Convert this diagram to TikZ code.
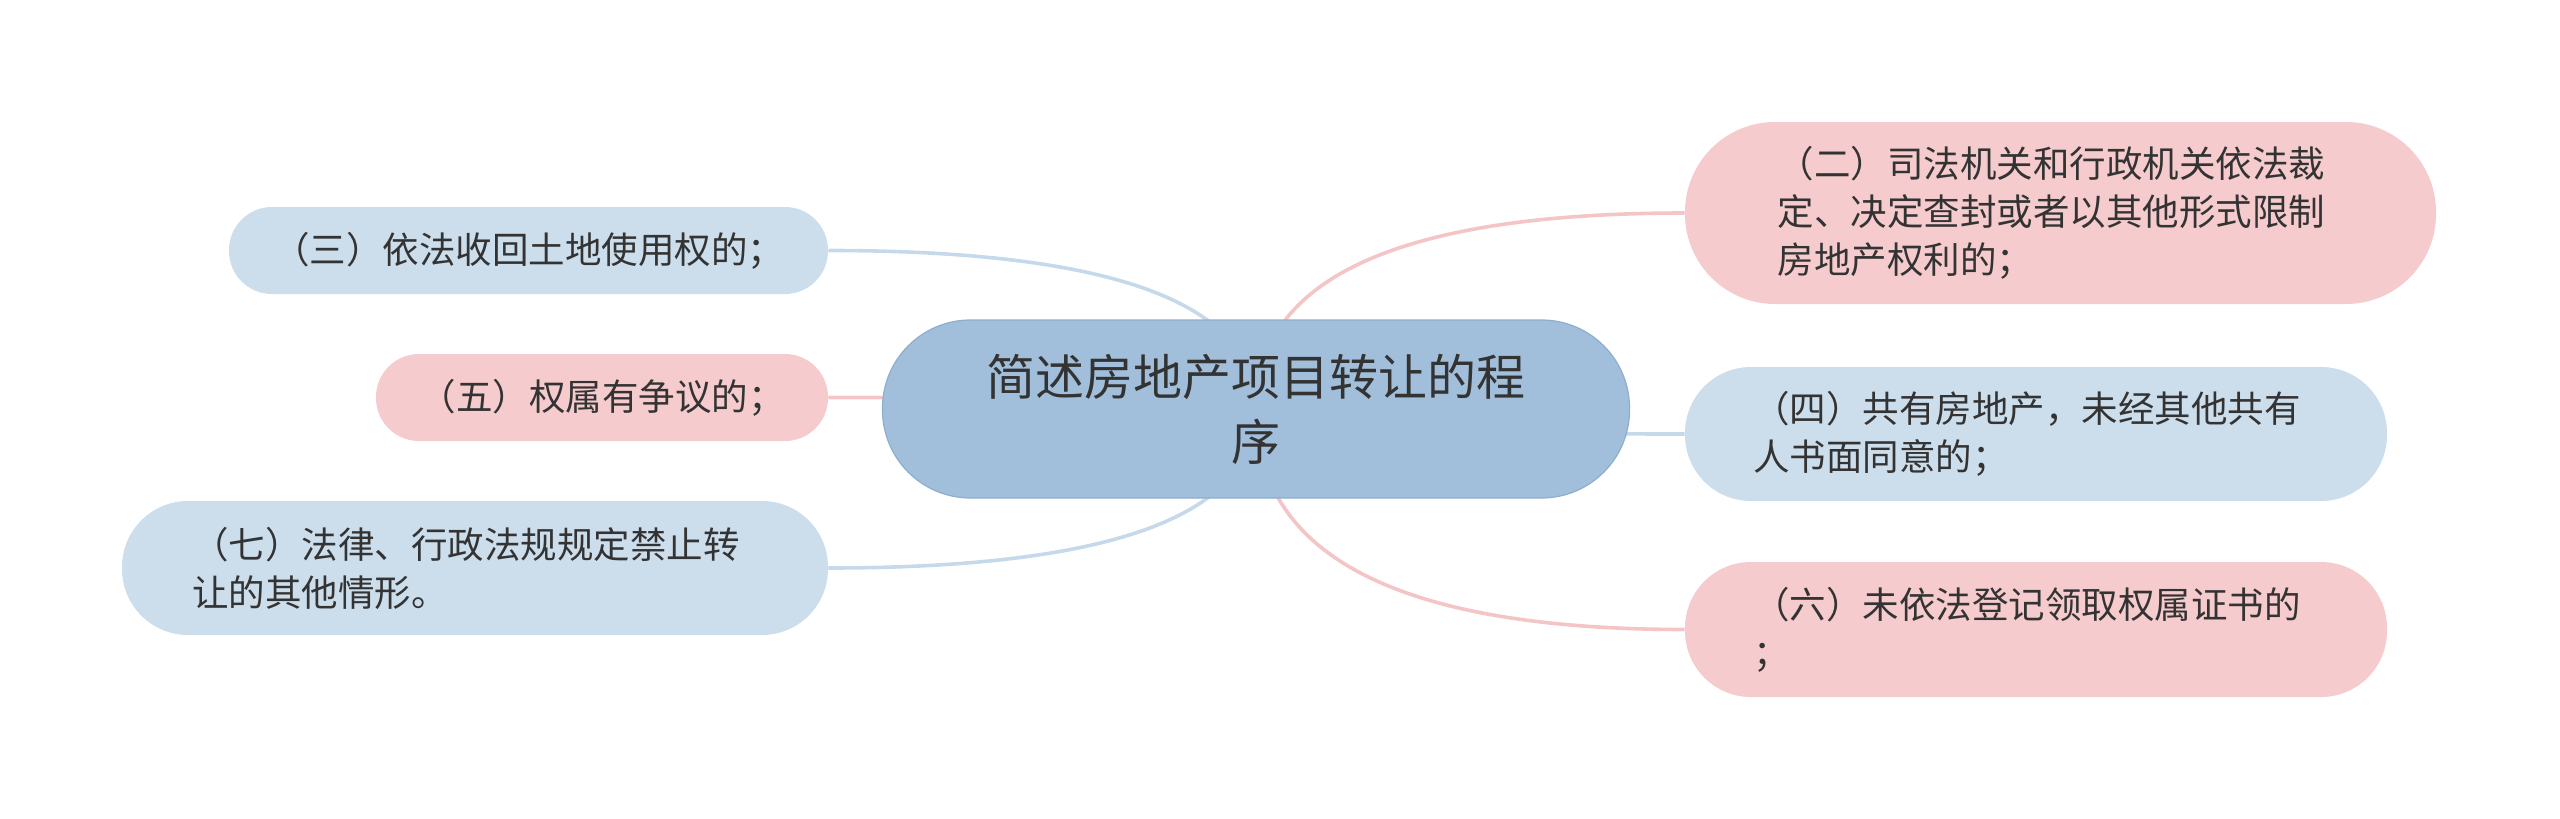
\documentclass[tikz,border=0pt]{standalone}
\usepackage{fontspec}
\setmainfont{Noto Sans CJK SC}
\usetikzlibrary{calc}
\definecolor{rootfill}{HTML}{A1BFDB}
\definecolor{rootline}{HTML}{8EAECD}
\definecolor{bluefill}{HTML}{CCDDEC}
\definecolor{pinkfill}{HTML}{F5CBCD}
\definecolor{blueline}{HTML}{C6D9EB}
\definecolor{pinkline}{HTML}{F3C5C7}
\definecolor{txt}{HTML}{333333}
\pgfdeclarelayer{bg}
\pgfsetlayers{bg,main}
\newcommand\mmlink[3]{%
  \coordinate (k#2) at (root.center |- #2.#3);
  \draw[link,#1] (root.center) .. controls ($(root.center)!0.6667!(k#2)$) and ($(#2.#3)!0.6667!(k#2)$) .. (#2.#3);}
\begin{document}
\begin{tikzpicture}[x=0.5pt,y=-0.5pt,
  base/.style={text=txt, inner sep=0pt, align=left},
  rootnode/.style={base, fill=rootfill, draw=rootline, line width=0.6pt, minimum width=373.5pt, minimum height=89pt, rounded corners=44pt, align=center, font=\fontsize{24.5pt}{32.5pt}\selectfont},
  leaf/.style={base, font=\fontsize{18.25pt}{24pt}\selectfont},
  multi/.style={text width=283pt},
  bluenode/.style={leaf, fill=bluefill},
  pinknode/.style={leaf, fill=pinkfill},
  link/.style={line width=1.8pt},
]
\useasboundingbox (0,0) rectangle (2560,819);
\node[rootnode] (root) at (1256,409) {简述房地产项目转让的程\\序};
\node[pinknode, multi, minimum width=375.5pt, minimum height=91pt, rounded corners=45pt] (n2) at (2060.5,213) {（二）司法机关和行政机关依法裁\\定、决定查封或者以其他形式限制\\房地产权利的；};
\node[bluenode, minimum width=299.5pt, minimum height=43.5pt, rounded corners=21.5pt] (n3) at (528.5,250.5) {（三）依法收回土地使用权的；};
\node[pinknode, minimum width=226pt, minimum height=43.5pt, rounded corners=21.5pt] (n5) at (602,397.5) {（五）权属有争议的；};
\node[bluenode, multi, minimum width=353pt, minimum height=67pt, rounded corners=33pt] (n7) at (475,568) {（七）法律、行政法规规定禁止转\\让的其他情形。};
\node[bluenode, multi, minimum width=351pt, minimum height=67pt, rounded corners=33pt] (n4) at (2036,434) {（四）共有房地产，未经其他共有\\人书面同意的；};
\node[pinknode, multi, minimum width=351pt, minimum height=67.5pt, rounded corners=33pt] (n6) at (2036,629.5) {（六）未依法登记领取权属证书的\\；};
\begin{pgfonlayer}{bg}
\mmlink{pinkline}{n2}{west}
\mmlink{blueline}{n3}{east}
\mmlink{pinkline}{n5}{east}
\mmlink{blueline}{n7}{east}
\mmlink{blueline}{n4}{west}
\mmlink{pinkline}{n6}{west}
\end{pgfonlayer}
\end{tikzpicture}
\end{document}
